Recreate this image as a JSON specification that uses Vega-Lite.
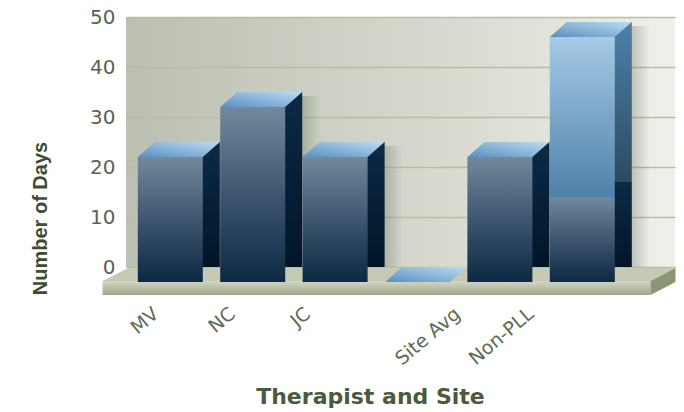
{
  "$schema": "https://vega.github.io/schema/vega-lite/v6.json",
  "width": 549,
  "height": 250,
  "autosize": {"type": "none"},
  "padding": {"left": 126, "top": 17, "right": 9, "bottom": 145},
  "background": "white",
  "view": {
    "stroke": null,
    "fill": {"gradient": "linear", "x1": 0, "y1": 0, "x2": 1, "y2": 0,
      "stops": [{"offset": 0, "color": "#bbbfb1"}, {"offset": 0.5, "color": "#d4d6cb"}, {"offset": 1, "color": "#eef0ea"}]}
  },
  "data": {"values": [
    {"category": "MV", "segment": "base", "days": 25},
    {"category": "NC", "segment": "base", "days": 35},
    {"category": "JC", "segment": "base", "days": 25},
    {"category": " ", "segment": "base", "days": 0},
    {"category": "Site Avg", "segment": "base", "days": 25},
    {"category": "Non-PLL", "segment": "base", "days": 17},
    {"category": "Non-PLL", "segment": "excess", "days": 32}
  ]},
  "transform": [
    {"stack": "days", "groupby": ["category"], "sort": [{"field": "segment", "order": "ascending"}], "as": ["y0", "y1"]},
    {"joinaggregate": [{"op": "max", "field": "y1", "as": "top"}], "groupby": ["category"]}
  ],
  "encoding": {
    "x": {
      "field": "category", "type": "nominal", "sort": ["MV", "NC", "JC", " ", "Site Avg", "Non-PLL"],
      "scale": {"paddingInner": 0.211, "paddingOuter": 0.437, "align": 0.4},
      "axis": {
        "title": "Therapist and Site",
        "labelAngle": -40, "labelAlign": "right", "labelBaseline": "top", "labelPadding": 37,
        "ticks": false, "domain": false, "grid": false, "labelOverlap": false, "labelBound": false,
        "labelFont": "DejaVu Sans", "labelFontSize": 19, "labelColor": "#5d6b50",
        "labelOffset": {"condition": [
          {"test": "datum.value === 'MV'", "value": -37},
          {"test": "datum.value === 'NC'", "value": -43},
          {"test": "datum.value === 'JC'", "value": -50},
          {"test": "datum.value === 'Site Avg'", "value": -65},
          {"test": "datum.value === 'Non-PLL'", "value": -74}
        ], "value": -58},
        "titleFont": "DejaVu Sans", "titleFontWeight": "bold", "titleFontSize": 22, "titleColor": "#4a5a3c",
        "titleX": 244, "titleY": 136, "titleAlign": "center", "titleBaseline": "alphabetic"
      }
    },
    "y": {
      "field": "y1", "type": "quantitative",
      "scale": {"domain": [0, 50], "nice": false},
      "axis": {
        "title": "Number of Days", "values": [0, 10, 20, 30, 40, 50],
        "ticks": false, "domain": false, "labelPadding": 11,
        "labelFont": "DejaVu Sans", "labelFontSize": 20, "labelColor": "#5b6350",
        "gridColor": "#b2c197", "gridWidth": 1.5,
        "titleFont": "Liberation Sans", "titleFontWeight": "bold", "titleFontSize": 20, "titleColor": "#3e4c33",
        "titleX": -80, "titleY": 201, "titleAngle": -90, "titleAlign": "center", "titleBaseline": "alphabetic"
      }
    }
  },
  "layer": [
    {
      "transform": [{"filter": "datum.category === ' '"}],
      "mark": {"type": "point", "shape": "M-306,1L241,1L216,14L-332,14Z", "size": 4, "filled": true, "opacity": 1, "strokeWidth": 0, "color": "#c6cab5"}
    },
    {
      "transform": [{"filter": "datum.category === ' '"}],
      "mark": {"type": "point", "shape": "M-332,14L216,14L216,28L-332,28Z", "size": 4, "filled": true, "opacity": 1, "strokeWidth": 0,
        "color": {"gradient": "linear", "x1": 0, "y1": 0, "x2": 0, "y2": 1, "stops": [{"offset": 0, "color": "#d3d7c3"}, {"offset": 1, "color": "#a0a78b"}]}}
    },
    {
      "transform": [{"filter": "datum.category === ' '"}],
      "mark": {"type": "point", "shape": "M216,14L241,1L241,15L216,28Z", "size": 4, "filled": true, "opacity": 1, "strokeWidth": 0, "color": "#8d9577"}
    },
    {
      "transform": [{"filter": "datum.y1 === datum.top && datum.days > 0"}],
      "mark": {"type": "bar", "xOffset": 18, "yOffset": 4,
        "color": {"gradient": "linear", "x1": 0, "y1": 0, "x2": 1, "y2": 0, "stops": [{"offset": 0, "color": "rgba(80,85,70,0.3)"}, {"offset": 0.7, "color": "rgba(80,85,70,0.3)"}, {"offset": 1, "color": "rgba(80,85,70,0)"}]}},
      "encoding": {"y2": {"datum": 0}}
    },
    {
      "transform": [{"filter": "datum.segment === 'base'"}],
      "mark": {"type": "bar",
        "color": {"gradient": "linear", "x1": 0, "y1": 0, "x2": 0, "y2": 1, "stops": [{"offset": 0, "color": "#0c2a47"}, {"offset": 1, "color": "#011527"}]}},
      "encoding": {"y2": {"field": "y0"}}
    },
    {
      "transform": [{"filter": "datum.segment === 'excess'"}],
      "mark": {"type": "bar",
        "color": {"gradient": "linear", "x1": 0, "y1": 0, "x2": 0, "y2": 1, "stops": [{"offset": 0, "color": "#4d81a8"}, {"offset": 1, "color": "#2c4a61"}]}},
      "encoding": {"y2": {"field": "y0"}}
    },
    {
      "transform": [{"filter": "datum.y1 === datum.top"}],
      "mark": {"type": "point", "shape": "M-32.5,0L32.5,0L15.5,15L-49.5,15Z", "size": 4, "filled": true, "opacity": 1, "strokeWidth": 0,
        "color": {"gradient": "linear", "x1": 0, "y1": 1, "x2": 1, "y2": 0, "stops": [{"offset": 0, "color": "#5a8fbf"}, {"offset": 1, "color": "#bcdcf3"}]}}
    },
    {
      "transform": [{"filter": "datum.segment === 'base'"}],
      "mark": {"type": "bar", "xOffset": -17, "yOffset": 15, "y2Offset": 15,
        "color": {"gradient": "linear", "x1": 0, "y1": 0, "x2": 0, "y2": 1, "stops": [{"offset": 0, "color": "#72889c"}, {"offset": 0.5, "color": "#3e566f"}, {"offset": 1, "color": "#0d2843"}]}},
      "encoding": {"y2": {"field": "y0"}}
    },
    {
      "transform": [{"filter": "datum.segment === 'excess'"}],
      "mark": {"type": "bar", "xOffset": -17, "yOffset": 15, "y2Offset": 15,
        "color": {"gradient": "linear", "x1": 0, "y1": 0, "x2": 0, "y2": 1, "stops": [{"offset": 0, "color": "#a6cae7"}, {"offset": 1, "color": "#4e81a8"}]}},
      "encoding": {"y2": {"field": "y0"}}
    }
  ]
}
